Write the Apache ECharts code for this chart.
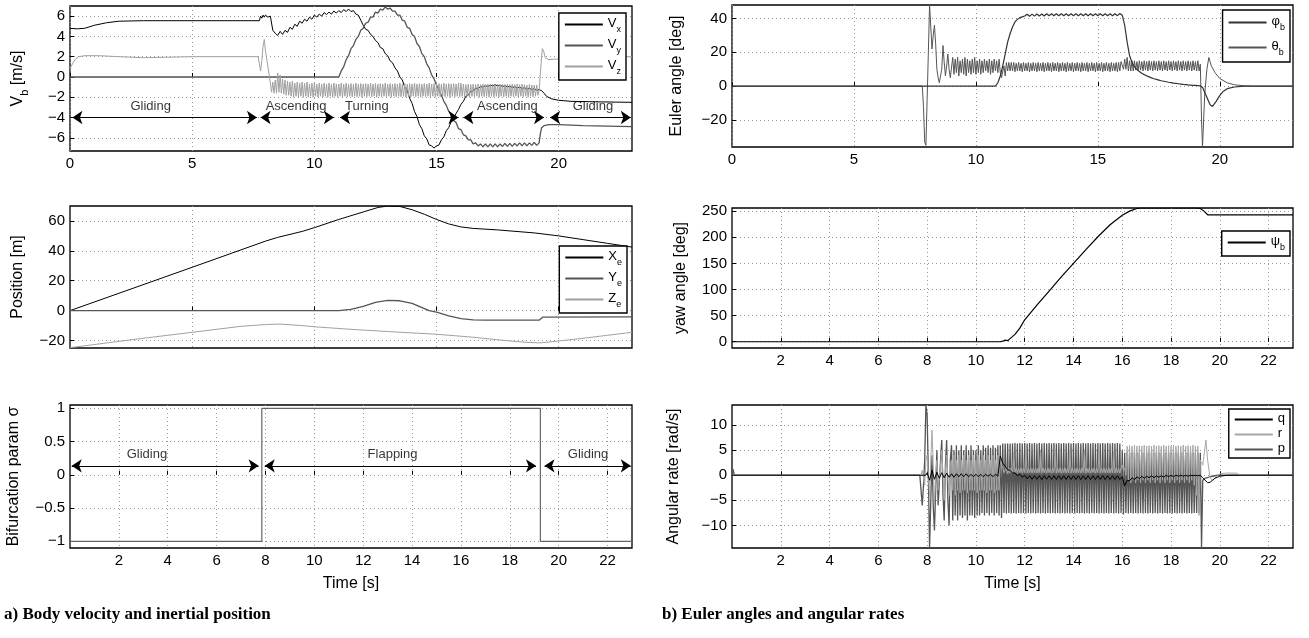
<!DOCTYPE html>
<html>
<head>
<meta charset="utf-8">
<script src="https://cdn.jsdelivr.net/npm/echarts@6.0.0/dist/echarts.min.js"></script>
<style>
html, body { margin: 0; padding: 0; background: #fff; }
#main { width: 1309px; height: 638px; }
</style>
</head>
<body>
<div id="main"></div>
<script>
// flight simulation: gliding / flapping phases
var FONT = '"Liberation Sans", Arial, sans-serif';

// time grid of the flapping part, 0.1 s (slow signals)
var tFlap = [
  8.0, 8.1, 8.2, 8.3, 8.4, 8.5, 8.6, 8.7, 8.8, 8.9,
  9.0, 9.1, 9.2, 9.3, 9.4, 9.5, 9.6, 9.7, 9.8, 9.9,
  10.0, 10.1, 10.2, 10.3, 10.4, 10.5, 10.6, 10.7, 10.8, 10.9,
  11.0, 11.1, 11.2, 11.3, 11.4, 11.5, 11.6, 11.7, 11.8, 11.9,
  12.0, 12.1, 12.2, 12.3, 12.4, 12.5, 12.6, 12.7, 12.8, 12.9,
  13.0, 13.1, 13.2, 13.3, 13.4, 13.5, 13.6, 13.7, 13.8, 13.9,
  14.0, 14.1, 14.2, 14.3, 14.4, 14.5, 14.6, 14.7, 14.8, 14.9,
  15.0, 15.1, 15.2, 15.3, 15.4, 15.5, 15.6, 15.7, 15.8, 15.9,
  16.0, 16.1, 16.2, 16.3, 16.4, 16.5, 16.6, 16.7, 16.8, 16.9,
  17.0, 17.1, 17.2, 17.3, 17.4, 17.5, 17.6, 17.7, 17.8, 17.9,
  18.0, 18.1, 18.2, 18.3, 18.4, 18.5, 18.6, 18.7, 18.8, 18.9,
  19.0, 19.1, 19.2
];

// time grid of the flapping part, 0.05 s (wing-beat signals)
var tFast = [
  8.0, 8.05, 8.1, 8.15, 8.2, 8.25, 8.3, 8.35, 8.4, 8.45,
  8.5, 8.55, 8.6, 8.65, 8.7, 8.75, 8.8, 8.85, 8.9, 8.95,
  9.0, 9.05, 9.1, 9.15, 9.2, 9.25, 9.3, 9.35, 9.4, 9.45,
  9.5, 9.55, 9.6, 9.65, 9.7, 9.75, 9.8, 9.85, 9.9, 9.95,
  10.0, 10.05, 10.1, 10.15, 10.2, 10.25, 10.3, 10.35, 10.4, 10.45,
  10.5, 10.55, 10.6, 10.65, 10.7, 10.75, 10.8, 10.85, 10.9, 10.95,
  11.0, 11.05, 11.1, 11.15, 11.2, 11.25, 11.3, 11.35, 11.4, 11.45,
  11.5, 11.55, 11.6, 11.65, 11.7, 11.75, 11.8, 11.85, 11.9, 11.95,
  12.0, 12.05, 12.1, 12.15, 12.2, 12.25, 12.3, 12.35, 12.4, 12.45,
  12.5, 12.55, 12.6, 12.65, 12.7, 12.75, 12.8, 12.85, 12.9, 12.95,
  13.0, 13.05, 13.1, 13.15, 13.2, 13.25, 13.3, 13.35, 13.4, 13.45,
  13.5, 13.55, 13.6, 13.65, 13.7, 13.75, 13.8, 13.85, 13.9, 13.95,
  14.0, 14.05, 14.1, 14.15, 14.2, 14.25, 14.3, 14.35, 14.4, 14.45,
  14.5, 14.55, 14.6, 14.65, 14.7, 14.75, 14.8, 14.85, 14.9, 14.95,
  15.0, 15.05, 15.1, 15.15, 15.2, 15.25, 15.3, 15.35, 15.4, 15.45,
  15.5, 15.55, 15.6, 15.65, 15.7, 15.75, 15.8, 15.85, 15.9, 15.95,
  16.0, 16.05, 16.1, 16.15, 16.2, 16.25, 16.3, 16.35, 16.4, 16.45,
  16.5, 16.55, 16.6, 16.65, 16.7, 16.75, 16.8, 16.85, 16.9, 16.95,
  17.0, 17.05, 17.1, 17.15, 17.2, 17.25, 17.3, 17.35, 17.4, 17.45,
  17.5, 17.55, 17.6, 17.65, 17.7, 17.75, 17.8, 17.85, 17.9, 17.95,
  18.0, 18.05, 18.1, 18.15, 18.2, 18.25, 18.3, 18.35, 18.4, 18.45,
  18.5, 18.55, 18.6, 18.65, 18.7, 18.75, 18.8, 18.85, 18.9, 18.95,
  19.0, 19.05, 19.1, 19.15, 19.2
];

// ---- body velocity [m/s]
var vxHead = [[0, 4.8], [0.3, 4.75], [0.6, 4.8], [1.0, 5.1], [1.5, 5.35], [2.0, 5.5], [3.0, 5.55],
  [7.75, 5.55], [7.8, 6.0], [7.85, 5.8], [7.9, 6.1], [7.95, 5.9]];
var vxFlap = [
  6.1, 5.9, 6.0, 4.6, 4.3, 4.1, 4.5, 4.2, 4.6, 4.4,
  4.9, 4.7, 5.2, 5.0, 5.5, 5.3, 5.7, 5.5, 5.9, 5.7,
  6.1, 5.9, 6.2, 6.0, 6.35, 6.15, 6.4, 6.2, 6.5, 6.3,
  6.55, 6.35, 6.65, 6.45, 6.7, 6.45, 6.55, 6.2, 6.1, 5.6,
  5.1, 4.7, 4.6, 4.2, 4.0, 3.6, 3.4, 2.9, 2.8, 2.3,
  2.1, 1.6, 1.4, 0.9, 0.6, 0.0, -0.3, -1.0, -1.3, -2.1,
  -2.6, -3.4, -3.9, -4.7, -5.1, -5.8, -6.1, -6.7, -6.8, -7.0,
  -6.8, -6.7, -6.2, -5.9, -5.3, -5.0, -4.4, -4.1, -3.6, -3.2,
  -2.7, -2.4, -1.9, -1.8, -1.4, -1.4, -1.1, -1.15, -0.95, -1.0,
  -0.85, -0.95, -0.8, -0.9, -0.75, -0.9, -0.8, -0.95, -0.85, -1.0,
  -0.9, -1.05, -0.95, -1.1, -1.0, -1.15, -1.05, -1.2, -1.1, -1.25,
  -1.15, -1.3, -1.25
];
var vxTail = [[19.3, -1.35], [19.4, -1.6], [19.5, -1.9], [19.7, -2.15], [20.0, -2.3], [20.5, -2.4], [21.5, -2.45], [23, -2.5]];

var vyHead = [[0, 0], [7.95, 0]];
var vyFlap = [
  0, 0, 0, 0, 0, 0, 0, 0, 0, 0,
  0, 0, 0, 0, 0, 0, 0, 0, 0, 0,
  0, 0, 0, 0, 0, 0, 0, 0, 0, 0,
  0, 0.6, 1.0, 1.7, 2.1, 2.8, 3.1, 3.7, 4.0, 4.6,
  4.8, 5.3, 5.4, 5.9, 5.9, 6.4, 6.3, 6.7, 6.6, 6.9,
  6.7, 6.8, 6.5, 6.5, 6.1, 6.1, 5.6, 5.5, 4.9, 4.8,
  4.2, 4.0, 3.3, 3.0, 2.3, 2.0, 1.3, 0.9, 0.2, -0.2,
  -0.8, -1.3, -1.8, -2.4, -2.8, -3.4, -3.7, -4.3, -4.5, -5.1,
  -5.2, -5.7, -5.8, -6.2, -6.2, -6.6, -6.5, -6.8, -6.6, -6.9,
  -6.6, -6.9, -6.6, -6.9, -6.6, -6.9, -6.6, -6.85, -6.55, -6.85,
  -6.55, -6.85, -6.55, -6.8, -6.5, -6.8, -6.5, -6.8, -6.5, -6.75,
  -6.45, -6.75, -6.5
];
var vyTail = [[19.25, -5.6], [19.3, -5.0], [19.4, -4.8], [19.6, -4.7], [20.0, -4.7], [21.0, -4.8], [22.0, -4.85], [23, -4.9]];

var vzHead = [[0, 0.8], [0.1, 1.3], [0.2, 1.7], [0.35, 2.0], [0.6, 2.1], [1.2, 2.1], [2.0, 2.0], [2.5, 1.95], [3.0, 1.9],
  [4.0, 1.95], [5.0, 2.0], [7.7, 2.0], [7.75, 1.3], [7.8, 0.6], [7.85, 1.6], [7.9, 3.0], [7.95, 3.7]];
var vzFast = [
  2.6, 1.8, 1.0, 0.2, -0.6, -1.5, -0.5, -1.6, -0.3, -1.6,
  0.4, -1.5, 0.2, -1.6, -0.2, -1.7, -0.3, -1.8, -0.4, -1.8,
  -0.5, -1.9, -0.4, -2.0, -0.6, -1.9, -0.5, -2.0, -0.6, -1.9,
  -0.5, -2.0, -0.6, -1.9, -0.5, -2.0, -0.7, -1.9, -0.6, -2.0,
  -0.6, -1.9, -0.7, -2.0, -0.6, -1.9, -0.7, -2.0, -0.6, -1.9,
  -0.7, -2.0, -0.6, -1.9, -0.7, -2.0, -0.6, -1.9, -0.7, -2.0,
  -0.7, -1.9, -0.6, -2.0, -0.7, -1.9, -0.6, -1.95, -0.7, -1.9,
  -0.65, -1.95, -0.7, -1.9, -0.6, -1.95, -0.7, -1.9, -0.65, -2.0,
  -0.7, -1.9, -0.65, -1.95, -0.7, -1.9, -0.6, -1.95, -0.7, -1.9,
  -0.65, -2.0, -0.7, -1.9, -0.65, -1.95, -0.7, -1.9, -0.6, -1.95,
  -0.7, -1.9, -0.65, -2.0, -0.7, -1.9, -0.65, -1.95, -0.7, -1.9,
  -0.6, -1.95, -0.7, -1.9, -0.65, -2.0, -0.7, -1.9, -0.65, -1.95,
  -0.7, -1.9, -0.6, -1.95, -0.7, -1.9, -0.65, -2.0, -0.7, -1.9,
  -0.65, -1.95, -0.7, -1.9, -0.6, -1.95, -0.7, -1.9, -0.65, -2.0,
  -0.7, -1.9, -0.65, -1.95, -0.7, -1.9, -0.6, -1.95, -0.7, -1.9,
  -0.65, -2.0, -0.7, -1.9, -0.65, -1.95, -0.7, -1.9, -0.6, -1.95,
  -0.6, -1.9, -0.7, -1.95, -0.75, -1.9, -0.7, -2.0, -0.75, -1.9,
  -0.7, -1.95, -0.75, -1.9, -0.7, -2.0, -0.75, -1.9, -0.7, -1.95,
  -0.75, -1.9, -0.7, -2.0, -0.75, -1.9, -0.7, -1.95, -0.75, -1.9,
  -0.7, -2.0, -0.75, -1.9, -0.7, -1.95, -0.75, -1.9, -0.7, -2.0,
  -0.75, -1.9, -0.7, -1.95, -0.75, -1.9, -0.7, -2.0, -0.75, -1.9,
  -0.7, -1.95, -0.75, -1.9, -0.8, -2.0, -0.75, -1.9, -0.8, -1.95,
  -0.8, -1.9, -0.8, -1.8, -1.3
];
var vzTail = [[19.25, 0.4], [19.33, 2.8], [19.38, 2.6], [19.45, 1.9], [19.6, 1.7], [19.8, 1.75], [20.2, 1.8], [20.8, 1.9], [21.5, 1.95], [23, 2.0]];

// phase annotations
var phaseTopSeg = [[0.1, 7.65], [7.8, 10.8], [11.05, 15.9], [16.1, 19.4], [19.65, 22.95]];
var phaseTopText = ['Gliding', 'Ascending', 'Turning', 'Ascending', 'Gliding'];
var phaseTopTextX = [3.3, 9.25, 12.15, 17.9, 21.4];
var phaseTopY = -4;
var phaseTopTextY = -2.95;

// ---- inertial position [m]
var xePos = [[0, 0], [2.5, 14.5], [5, 29], [8, 46.5], [8.5, 49], [9.5, 53], [10, 55.5], [11, 61], [12, 66], [12.6, 69],
  [13.0, 70], [13.5, 69.7], [14, 67.5], [14.5, 64.5], [15, 61], [15.5, 58], [16, 56], [16.5, 55], [17.5, 54], [19, 52],
  [20, 50], [21, 47.5], [22, 45], [23, 42.5]];
var yePos = [[0, 0], [11, 0], [11.5, 0.8], [12, 2.8], [12.5, 5.5], [13, 6.8], [13.5, 6.6], [14, 4.8], [14.7, 0],
  [15, -1], [15.5, -3.5], [16, -5.3], [16.5, -6.2], [17, -6.4], [19.2, -6.4], [19.35, -4.3], [23, -4.2]];
var zePos = [[0, -24.8], [2.5, -19.5], [5, -14.5], [7, -10.5], [8, -9.3], [8.6, -9], [9.5, -10], [10, -10.8], [11.5, -12.5],
  [13, -14], [15, -15.8], [16.5, -17.8], [17.5, -19.5], [18.5, -21], [19.2, -21.6], [19.5, -21.2], [20, -20.3],
  [21, -18.5], [22, -16.5], [23, -14.5]];

// ---- bifurcation parameter
var sigma = [[0, -1], [7.85, -1], [7.85, 1], [19.25, 1], [19.25, -1], [23, -1]];
var phaseBotSeg = [[0.07, 7.72], [7.97, 19.07], [19.42, 22.95]];
var phaseBotText = ['Gliding', 'Flapping', 'Gliding'];
var phaseBotTextX = [3.15, 13.2, 21.2];
var phaseBotY = 0.135;
var phaseBotTextY = 0.31;

// ---- Euler angles [deg]
var phiHead = [[0, 0], [0.05, 1], [0.2, 0], [7.95, 0]];
var phiFlap = [
  0, 0, 0, 0, 0, 0, 0, 0, 0, 0,
  0, 0, 0, 0, 0, 0, 0, 0, 0, 0,
  0, 0, 0, 0, 0, 0, 0, 0, 0, 2,
  6, 12, 19, 26, 31, 35, 38, 39.5, 40.5, 41,
  41.5, 42.5, 41.3, 42.6, 41.4, 42.7, 41.5, 42.7, 41.5, 42.8,
  41.6, 42.8, 41.6, 42.8, 41.6, 42.8, 41.6, 42.8, 41.6, 42.8,
  41.6, 42.8, 41.6, 42.8, 41.6, 42.8, 41.6, 42.8, 41.6, 42.8,
  41.6, 42.8, 41.6, 42.8, 41.6, 42.8, 41.6, 42.8, 41.7, 43.0,
  42, 36, 26, 18, 14, 11.5, 9.8, 8.6, 7.6, 6.8,
  6.1, 5.5, 4.9, 4.4, 4.0, 3.6, 3.2, 2.9, 2.6, 2.3,
  2.1, 1.8, 1.6, 1.4, 1.2, 1.0, 0.9, 0.7, 0.6, 0.5,
  0.4, 0.3, 0.2
];
var phiTail = [[19.3, -1], [19.45, -6], [19.6, -11], [19.7, -12], [19.85, -9], [20.0, -5.5], [20.15, -3], [20.3, -1.5],
  [20.6, -0.5], [21.0, 0], [23, 0]];

var thetaHead = [[0, 0], [0.05, -1], [0.2, 0], [7.8, 0], [7.85, -12], [7.9, -33], [7.95, -35]];
var thetaFast = [
  -8, 20, 48, 35, 22, 30, 36, 25, 10, 5,
  2, 1, 10, 24, 14, 6, 12, 19, 10, 5,
  6, 17, 7, 16, 8, 17, 6, 15, 8, 16,
  7, 17, 6, 16, 8, 15, 7, 16, 8, 17,
  7, 15, 8, 16, 7, 15, 8, 16, 9, 15,
  8, 16, 7, 15, 8, 16, 9, 15, 8, 16,
  8, 5, 4, 12, 6, 14, 9, 14, 9, 14,
  9, 14, 8.5, 13.5, 9, 14, 9, 13.5, 8.5, 14,
  9, 13.5, 9, 14, 8.5, 13.5, 9, 14, 9, 13.5,
  8.5, 14, 9, 13.5, 9, 14, 8.5, 13.5, 9, 14,
  9, 13.5, 8.5, 14, 9, 13.5, 9, 14, 8.5, 13.5,
  9, 14, 9, 13.5, 8.5, 14, 9, 13.5, 9, 14,
  8.5, 13.5, 9, 14, 9, 13.5, 8.5, 14, 9, 13.5,
  9, 14, 8.5, 13.5, 9, 14, 9, 13.5, 8.5, 14,
  9, 13.5, 9, 14, 8.5, 13.5, 9, 14, 9, 13.5,
  8.5, 14, 9, 13.5, 9, 14, 8.5, 14, 9, 14.5,
  14, 10, 16, 10, 17, 9, 15, 9, 15, 9,
  15, 9.5, 14.5, 9, 15, 9.5, 14.5, 9, 15, 9.5,
  14.5, 9, 15, 9.5, 14.5, 9, 15, 9.5, 14.5, 9,
  15, 9.5, 14.5, 9, 15, 9.5, 14.5, 9, 15, 9.5,
  14.5, 9, 15, 9.5, 14.5, 9, 15, 9.5, 14.5, 9,
  15, 9.5, 14.5, 9, 15, 9.5, 14.5, 9, 15, 9.5,
  14.5, 9, 15, 9, 13
];
var thetaTail = [[19.25, -20], [19.29, -36], [19.38, -5], [19.47, 10], [19.55, 17], [19.65, 12], [19.8, 8], [20.0, 4.5],
  [20.3, 2], [20.6, 0.8], [21.0, 0.2], [21.3, 0], [23, 0]];

// ---- yaw angle [deg]
var psi = [[0, 0], [11.0, 0], [11.1, 1], [11.2, 3], [11.3, 2], [11.4, 6], [11.6, 14], [11.8, 26], [12.0, 42], [12.5, 70],
  [13.0, 97], [13.5, 124], [14.0, 150], [14.5, 176], [15.0, 201], [15.5, 224], [16.0, 242], [16.3, 250], [16.6, 255],
  [16.8, 256], [19.0, 256], [19.2, 255], [19.35, 250], [19.5, 243], [23, 243]];

// ---- angular rates [rad/s]
var pHead = [[0, 0], [0.04, 1.2], [0.1, 0], [7.7, 0], [7.75, -3], [7.8, -6], [7.85, -2], [7.9, 3], [7.95, 14]];
var pFast = [
  12, 0, -14.5, -5, 4, -6, -11, -3, 5, -6,
  -6, 3, 7, -4, -9, 2, 7, -5, -10, 3,
  6, -9, 5, -8, 6, -9, 5, -8, 6, -8.5,
  5, -8, 6, -9, 5, -8, 6, -8, 5, -8.5,
  5, -8, 6, -8, 5, -7.5, 6, -8, 5.5, -7.5,
  6, -8, 5.5, -7.5, 6, -8, 5.5, -7.5, 6, -8,
  6, -8.5, 6.3, -7.5, 6.3, -7.6, 6.3, -7.5, 6.3, -7.6,
  6.3, -7.5, 6.4, -7.6, 6.3, -7.5, 6.4, -7.6, 6.3, -7.5,
  6.4, -7.6, 6.3, -7.5, 6.4, -7.6, 6.3, -7.5, 6.4, -7.6,
  6.3, -7.5, 6.4, -7.6, 6.3, -7.5, 6.4, -7.6, 6.3, -7.5,
  6.4, -7.6, 6.3, -7.5, 6.4, -7.6, 6.3, -7.5, 6.4, -7.6,
  6.3, -7.5, 6.4, -7.6, 6.3, -7.5, 6.4, -7.6, 6.3, -7.5,
  6.4, -7.6, 6.3, -7.5, 6.4, -7.6, 6.3, -7.5, 6.4, -7.6,
  6.3, -7.5, 6.4, -7.6, 6.3, -7.5, 6.4, -7.6, 6.3, -7.5,
  6.4, -7.6, 6.3, -7.5, 6.4, -7.6, 6.3, -7.5, 6.4, -7.6,
  6.3, -7.5, 6.4, -7.6, 6.3, -7.5, 6.4, -7.6, 6.3, -7.5,
  5, -7.8, 4.5, -7.5, 4.6, -7.6, 4.5, -7.5, 4.6, -7.6,
  4.5, -7.5, 4.6, -7.6, 4.5, -7.5, 4.6, -7.6, 4.5, -7.5,
  4.6, -7.6, 4.5, -7.5, 4.6, -7.6, 4.5, -7.5, 4.6, -7.6,
  4.5, -7.5, 4.6, -7.6, 4.5, -7.5, 4.6, -7.6, 4.5, -7.5,
  4.6, -7.6, 4.5, -7.5, 4.6, -7.6, 4.5, -7.5, 4.6, -7.6,
  4.5, -7.5, 4.6, -7.6, 4.5, -7.5, 4.6, -7.6, 4.5, -7.5,
  4.5, -7.5, 4.5, -7.5, 4.5
];
var pTail = [[19.25, -14.5], [19.3, -1], [19.4, -0.6], [19.6, -0.3], [19.9, 0], [23, 0]];

var rHead = [[0, 0], [7.75, 0], [7.8, 1], [7.9, -2], [7.95, 3]];
var rFast = [
  4, 0, -4, 3, 9, 2, -6, 0, 3, -3,
  -3, 2, 5, 0, -5, 1, 4, 0, -4, 2,
  3, -3, 4, -4, 3, -3, 4, -3.5, 3, -3,
  4, -3, 3, -3.5, 4, -3, 3, -3, 4, -3,
  3, -3.5, 4, -3, 3, -3, 4, -3, 3, -3.5,
  4, -3, 3, -3, 4, -3.5, 3, -3, 4, -3,
  3.5, 2, 1.5, 0.5, 0.4, 1.6, 0.3, 1.5, 0.4, 1.5,
  0.4, 4.5, 0.5, 1.5, 0.4, 1.4, 0.5, 1.5, 0.4, 1.4,
  0.5, 5, 0.4, 1.4, 0.5, 1.5, 0.4, 1.4, 0.5, 1.5,
  0.4, 1.4, 0.5, 4.8, 0.4, 1.5, 0.5, 1.4, 0.4, 1.5,
  0.5, 1.4, 0.4, 1.5, 0.5, 5.2, 0.4, 1.4, 0.5, 1.5,
  0.4, 1.4, 0.5, 1.5, 0.4, 1.4, 0.5, 4.9, 0.4, 1.5,
  0.5, 1.4, 0.4, 1.5, 0.5, 1.4, 0.4, 1.5, 0.5, 5.1,
  0.4, 1.4, 0.5, 1.5, 0.4, 1.4, 0.5, 1.5, 0.4, 1.4,
  0.5, 5, 0.4, 1.4, 0.5, 1.5, 0.4, 1.4, 0.5, 1.5,
  0.4, 1.4, 0.5, 4.8, 0.4, 1.5, 0.5, 1.4, 0.4, 1.5,
  2.0, 1.0, 1.5, 0, 5.8, -1, 5.9, -1.5, 5.8, -1,
  6, -1.5, 5.8, -1, 5.9, -1.5, 5.8, -1, 6, -1.5,
  5.8, -1, 5.9, -1.5, 5.8, -1, 6, -1.5, 5.8, -1,
  5.9, -1.5, 5.8, -1, 6, -1.5, 5.8, -1, 5.9, -1.5,
  5.8, -1, 6, -1.5, 5.8, -1, 5.9, -1.5, 5.8, -1,
  6, -1.5, 5.8, -1, 5.9, -1.5, 5.8, -1, 6, -2,
  5.8, -4, 5.8, -8, 3
];
var rTail = [[19.3, 2], [19.43, 7], [19.5, 3], [19.6, -0.5], [19.7, -1], [19.85, -0.3], [20.0, 0.3], [20.3, 0.45],
  [20.7, 0.4], [20.8, 0], [23, 0]];

var qHead = [[0, 0], [7.95, 0]];
var qFlap = [
  0.5, -1, 1, -0.8, 0.6, -0.6, 0.5, -0.5, 0.4, -0.4,
  0.3, -0.4, 0.3, -0.3, 0.3, -0.3, 0.3, -0.3, 0.2, -0.3,
  0.2, -0.3, 0.2, -0.3, 0.2, -0.2, 0.2, -0.3, 0.2, -0.2,
  3.8, 2.4, 1.8, 1.1, 1.0, 0.4, 0.5, -0.1, 0.2, -0.4,
  0.0, -0.7, -0.1, -0.8, -0.1, -0.8, -0.1, -0.9, -0.1, -0.8,
  -0.1, -0.85, -0.1, -0.85, -0.1, -0.85, -0.1, -0.85, -0.1, -0.85,
  -0.1, -0.85, -0.1, -0.85, -0.1, -0.85, -0.1, -0.85, -0.1, -0.85,
  -0.1, -0.85, -0.1, -0.85, -0.1, -0.85, -0.1, -0.85, -0.1, -0.85,
  -0.3, -2.1, -1.0, -1.1, -0.5, -0.9, -0.3, -0.7, -0.2, -0.6,
  -0.2, -0.5, -0.1, -0.5, -0.1, -0.4, -0.1, -0.4, 0.0, -0.3,
  0.0, -0.3, 0.0, -0.2, 0.0, -0.2, 0.0, -0.2, 0.0, -0.1,
  0.0, -0.1, 0.0
];
var qTail = [[19.3, -0.5], [19.5, -1.5], [19.6, -1.4], [19.8, -0.6], [20.0, -0.2], [20.3, 0], [23, 0]];

// tick values
var tickT5 = [0, 5, 10, 15, 20];
var tickT5in = [5, 10, 15, 20];
var tickT2 = [2, 4, 6, 8, 10, 12, 14, 16, 18, 20, 22];
var tickVb = [-6, -4, -2, 0, 2, 4, 6];
var tickPos = [-20, 0, 20, 40, 60];
var tickSigma = [-1, -0.5, 0, 0.5, 1];
var tickEuler = [-20, 0, 20, 40];
var tickYaw = [0, 50, 100, 150, 200, 250];
var tickRate = [-10, -5, 0, 5, 10];

function flap(head, grid, vals, tail) {
  var out = head.slice();
  for (var k = 0; k < grid.length; k++) out.push([grid[k], vals[k]]);
  return out.concat(tail);
}

function minus(v) {
  return String(v).replace('-', '\u2212');
}

var subRich = {
  m: { fontSize: 16, lineHeight: 18, verticalAlign: 'top', color: '#000', fontFamily: FONT },
  s: { fontSize: 11, lineHeight: 11, padding: [9, 0, 0, 0], verticalAlign: 'top', color: '#000', fontFamily: FONT }
};
var legRich = {
  m: { fontSize: 13, lineHeight: 15, verticalAlign: 'top', color: '#000', fontFamily: FONT },
  s: { fontSize: 9, lineHeight: 9, padding: [8, 0, 0, 0], verticalAlign: 'top', color: '#000', fontFamily: FONT }
};

function xAx(gi, ticks, showLabel, name) {
  return {
    type: 'value', gridIndex: gi, min: 0, max: 23,
    name: name || '', nameLocation: 'middle', nameGap: 28,
    nameTextStyle: { color: '#000', fontSize: 16, fontFamily: FONT },
    axisLine: { show: false },
    axisTick: { show: true, inside: true, length: 4, customValues: ticks, lineStyle: { color: '#000' } },
    axisLabel: { show: showLabel, customValues: ticks, margin: 5, color: '#000', fontSize: 15, fontFamily: FONT, formatter: minus },
    splitLine: { show: true, lineStyle: { type: [1, 3], color: '#999', width: 1 } }
  };
}

function yAx(gi, min, max, ticks, name, gap) {
  return {
    type: 'value', gridIndex: gi, min: min, max: max,
    name: name, nameLocation: 'middle', nameGap: gap,
    nameTextStyle: { color: '#000', fontSize: 16, fontFamily: FONT, rich: subRich },
    axisLine: { show: false },
    axisTick: { show: true, inside: true, length: 4, customValues: ticks, lineStyle: { color: '#000' } },
    axisLabel: { customValues: ticks, margin: 5, color: '#000', fontSize: 15, fontFamily: FONT, formatter: minus },
    splitLine: { show: true, lineStyle: { type: [1, 3], color: '#999', width: 1 } }
  };
}

function ln(name, gi, data, color, width) {
  return {
    name: name, type: 'line', xAxisIndex: gi, yAxisIndex: gi, data: data,
    symbol: 'none', showSymbol: false, silent: true, animation: false,
    lineStyle: { color: color, width: width }, itemStyle: { color: color }
  };
}

function legFmt(name) {
  var p = name.split('_');
  return p.length > 1 ? '{m|' + p[0] + '}{s|' + p[1] + '}' : '{m|' + name + '}';
}

function leg(names, right, top, gap, pad) {
  return {
    data: names, orient: 'vertical', right: right, top: top, itemGap: gap,
    itemWidth: 38, itemHeight: 10, padding: pad, selectedMode: false,
    itemStyle: { opacity: 0 },
    backgroundColor: '#fff', borderColor: '#000', borderWidth: 1.4, borderRadius: 0, z: 10,
    formatter: legFmt, textStyle: { color: '#000', fontSize: 13, fontFamily: FONT, rich: legRich }
  };
}

function phases(gi, seg, text, textX, y, textY) {
  return {
    name: 'phases' + gi, type: 'scatter', xAxisIndex: gi, yAxisIndex: gi, z: 5,
    symbolSize: 1, silent: true, animation: false,
    itemStyle: { color: 'rgba(0,0,0,0)' },
    data: text.map(function (s, k) { return { value: [textX[k], textY], name: s }; }),
    label: { show: true, position: 'inside', formatter: '{b}', color: '#000', fontSize: 13, fontFamily: FONT },
    markLine: {
      silent: true, animation: false, symbol: ['arrow', 'arrow'], symbolSize: 10,
      label: { show: false }, lineStyle: { color: '#000', width: 1, type: 'solid' },
      data: seg.map(function (s) { return [{ coord: [s[0], y] }, { coord: [s[1], y] }]; })
    }
  };
}

var gridBox = { show: true, borderColor: '#000', borderWidth: 1.3, backgroundColor: '#fff' };

var option = {
  animation: false,
  backgroundColor: '#fff',
  textStyle: { fontFamily: FONT },
  grid: [
    Object.assign({ left: 70, top: 6, width: 562, height: 145 }, gridBox),
    Object.assign({ left: 70, top: 206, width: 562, height: 142 }, gridBox),
    Object.assign({ left: 70, top: 405, width: 562, height: 143 }, gridBox),
    Object.assign({ left: 732, top: 5, width: 561, height: 142 }, gridBox),
    Object.assign({ left: 732, top: 208, width: 561, height: 140 }, gridBox),
    Object.assign({ left: 732, top: 405, width: 561, height: 143 }, gridBox)
  ],
  xAxis: [
    xAx(0, tickT5, true),
    xAx(1, tickT5in, false),
    xAx(2, tickT2, true, 'Time [s]'),
    xAx(3, tickT5, true),
    xAx(4, tickT2, true),
    xAx(5, tickT2, true, 'Time [s]')
  ],
  yAxis: [
    yAx(0, -7.3, 7, tickVb, '{m|V}{s|b}{m| [m/s]}', 42),
    yAx(1, -25, 70, tickPos, '{m|Position [m]}', 42),
    yAx(2, -1.1, 1.05, tickSigma, '{m|Bifurcation param \u03c3}', 46),
    yAx(3, -36, 48, tickEuler, '{m|Euler angle [deg]}', 45),
    yAx(4, -12, 256, tickYaw, '{m|yaw angle [deg]}', 41),
    yAx(5, -14.5, 14, tickRate, '{m|Angular rate [rad/s]}', 48)
  ],
  legend: [
    leg(['V_x', 'V_y', 'V_z'], 683, 13, 4, [4, 5, 4, 5]),
    leg(['X_e', 'Y_e', 'Z_e'], 682, 246, 4, [4, 5, 4, 5]),
    leg(['\u03c6_b', '\u03b8_b'], 19, 10, 8, [5, 5, 5, 5]),
    leg(['\u03c8_b'], 19, 231, 4, [4, 5, 4, 5]),
    leg(['q', 'r', 'p'], 19, 409, 2, [3, 5, 3, 5])
  ],
  graphic: [
    { type: 'text', left: 4, top: 606, style: { text: 'a) Body velocity and inertial position', font: 'bold 17px "Liberation Serif", serif', fill: '#000' } },
    { type: 'text', left: 662, top: 606, style: { text: 'b) Euler angles and angular rates', font: 'bold 17px "Liberation Serif", serif', fill: '#000' } }
  ],
  series: [
    ln('V_x', 0, flap(vxHead, tFlap, vxFlap, vxTail), '#000', 1),
    ln('V_y', 0, flap(vyHead, tFlap, vyFlap, vyTail), '#555', 1.3),
    ln('V_z', 0, flap(vzHead, tFast, vzFast, vzTail), '#a0a0a0', 1),
    phases(0, phaseTopSeg, phaseTopText, phaseTopTextX, phaseTopY, phaseTopTextY),

    ln('X_e', 1, xePos, '#000', 1),
    ln('Y_e', 1, yePos, '#555', 1.3),
    ln('Z_e', 1, zePos, '#a0a0a0', 1),

    ln('sigma', 2, sigma, '#666', 1.2),
    phases(2, phaseBotSeg, phaseBotText, phaseBotTextX, phaseBotY, phaseBotTextY),

    ln('\u03b8_b', 3, flap(thetaHead, tFast, thetaFast, thetaTail), '#555', 1),
    ln('\u03c6_b', 3, flap(phiHead, tFlap, phiFlap, phiTail), '#333', 1.2),

    ln('\u03c8_b', 4, psi, '#000', 1.2),

    ln('p', 5, flap(pHead, tFast, pFast, pTail), '#555', 1.3),
    ln('r', 5, flap(rHead, tFast, rFast, rTail), '#a8a8a8', 1),
    ln('q', 5, flap(qHead, tFlap, qFlap, qTail), '#000', 1)
  ]
};

var chart = echarts.init(document.getElementById('main'), null, { renderer: 'canvas' });
chart.setOption(option);
</script>
</body>
</html>
